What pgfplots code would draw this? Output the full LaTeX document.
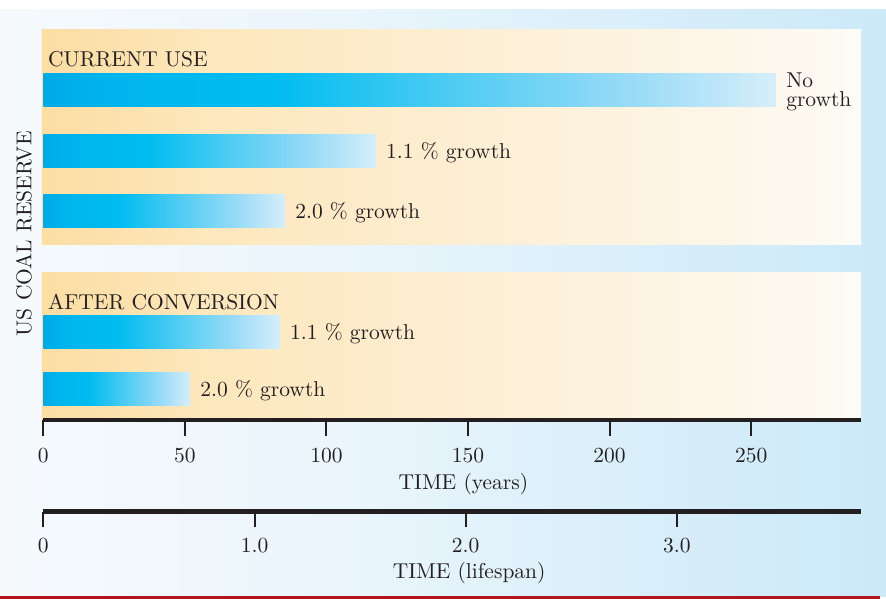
\documentclass[border=0pt]{standalone}
\usepackage{fontspec}
\setmainfont{lmroman10-regular.otf}
\usepackage{pgfplots}
\pgfplotsset{compat=1.18}
\definecolor{txt}{HTML}{231F20}
\definecolor{redline}{HTML}{B3151F}
\definecolor{b0}{RGB}{0,170,231}
\definecolor{b1}{RGB}{0,181,237}
\definecolor{b2}{RGB}{0,188,240}
\definecolor{b3}{RGB}{75,203,243}
\definecolor{b4}{RGB}{152,219,247}
\definecolor{b5}{RGB}{214,238,250}
\definecolor{p0}{RGB}{252,221,163}
\definecolor{p1}{RGB}{253,231,188}
\definecolor{p2}{RGB}{253,238,210}
\definecolor{p3}{RGB}{253,244,226}
\definecolor{p4}{RGB}{253,251,246}
\definecolor{g0}{RGB}{246,250,253}
\definecolor{g1}{RGB}{234,245,252}
\definecolor{g2}{RGB}{218,239,250}
\definecolor{g3}{RGB}{204,233,248}
\pgfdeclarehorizontalshading{barshade}{100bp}{color(0bp)=(b0); color(25bp)=(b0); color(30bp)=(b1); color(40.5bp)=(b2); color(52.5bp)=(b3); color(65bp)=(b4); color(75bp)=(b5); color(100bp)=(b5)}
\pgfdeclarehorizontalshading{panelshade}{100bp}{color(0bp)=(p0); color(25bp)=(p0); color(35bp)=(p1); color(50bp)=(p2); color(62bp)=(p3); color(75bp)=(p4); color(100bp)=(p4)}
\pgfdeclarehorizontalshading{bgshade}{100bp}{color(0bp)=(g0); color(25bp)=(g0); color(45bp)=(g1); color(60bp)=(g2); color(75bp)=(g3); color(100bp)=(g3)}
\begin{document}
\begin{tikzpicture}[x=1pt,y=1pt,font=\fontsize{21.5}{24}\selectfont,text=txt]
\useasboundingbox (-43.3,-179) rectangle (842.7,420);
\fill[white] (-43.3,410) rectangle (842.7,420);
\shade[shading=bgshade] (-43.3,-176) rectangle (842.7,410);
\shade[shading=panelshade] (-1.3,175) rectangle (817.7,390);
\shade[shading=panelshade] (-1.3,0) rectangle (817.7,147);
\fill[redline] (-43.3,-179) rectangle (836.7,-175.5);
\node[rotate=90,inner sep=0pt] at (-19.3,186.3) {US COAL RESERVE};
\begin{axis}[
  at={(0pt,0pt)}, anchor=south west,
  scale only axis, width=817.4pt, height=390pt,
  xmin=0, xmax=288.7, ymin=0, ymax=390,
  axis x line=bottom, axis y line=none,
  x axis line style={-, line width=4.7pt, color=txt},
  xtick={0,50,100,150,200,250},
  tick align=outside, major tick length=15.7pt,
  xtick style={line width=2pt, color=txt},
  /pgf/number format/assume math mode=true,
  xticklabel style={anchor=base, inner sep=0pt, yshift=-26.6pt, font=\fontsize{21.5}{24}\selectfont, text=txt},
  xlabel={TIME (years)},
  xlabel style={at={(axis description cs:0.514,0)}, anchor=base, inner sep=0pt, yshift=-70pt, text=txt},
  clip=false,
]
\addplot[xbar, draw=none, shade, shading=barshade, bar width=33, bar shift=0pt] coordinates {(258.8,329.5)};
\addplot[xbar, draw=none, shade, shading=barshade, bar width=33, bar shift=0pt] coordinates {(117.5,268.5)};
\addplot[xbar, draw=none, shade, shading=barshade, bar width=33, bar shift=0pt] coordinates {(85.4,208.5)};
\addplot[xbar, draw=none, shade, shading=barshade, bar width=33, bar shift=0pt] coordinates {(83.6,87.5)};
\addplot[xbar, draw=none, shade, shading=barshade, bar width=33, bar shift=0pt] coordinates {(51.9,30.5)};
\node[anchor=base west, inner sep=0pt] at (axis cs:1.66,353) {CURRENT USE};
\node[anchor=base west, inner sep=0pt] at (axis cs:1.66,110) {AFTER CONVERSION};
\node[anchor=base west, inner sep=0pt, xshift=10pt, yshift=2.6pt] at (axis cs:258.8,329.5) {No};
\node[anchor=base west, inner sep=0pt, xshift=10pt, yshift=-15.7pt] at (axis cs:258.8,329.5) {growth};
\node[anchor=base west, inner sep=0pt, xshift=10pt, yshift=-7.5pt] at (axis cs:117.5,268.5) {1.1 \% growth};
\node[anchor=base west, inner sep=0pt, xshift=10pt, yshift=-7pt] at (axis cs:85.4,208.5) {2.0 \% growth};
\node[anchor=base west, inner sep=0pt, xshift=10pt, yshift=-7pt] at (axis cs:83.6,87.5) {1.1 \% growth};
\node[anchor=base west, inner sep=0pt, xshift=10pt, yshift=-7pt] at (axis cs:51.9,30.5) {2.0 \% growth};
\end{axis}
\begin{axis}[
  at={(0pt,-91.5pt)}, anchor=south west,
  scale only axis, width=817.4pt, height=10pt,
  xmin=0, xmax=3.870, ymin=0, ymax=1,
  axis x line=bottom, axis y line=none,
  x axis line style={-, line width=4.7pt, color=txt},
  xtick={0,1,2,3}, xticklabels={0,1.0,2.0,3.0},
  tick align=outside, major tick length=15.7pt,
  xtick style={line width=2pt, color=txt},
  /pgf/number format/assume math mode=true,
  xticklabel style={anchor=base, inner sep=0pt, yshift=-25.5pt, font=\fontsize{21.5}{24}\selectfont, text=txt},
  xlabel={TIME (lifespan)},
  xlabel style={at={(axis description cs:0.521,0)}, anchor=base, inner sep=0pt, yshift=-66.8pt, text=txt},
  clip=false,
]
\addplot[draw=none, forget plot] coordinates {(0,0) (3.87,0)};
\end{axis}
\end{tikzpicture}
\end{document}
